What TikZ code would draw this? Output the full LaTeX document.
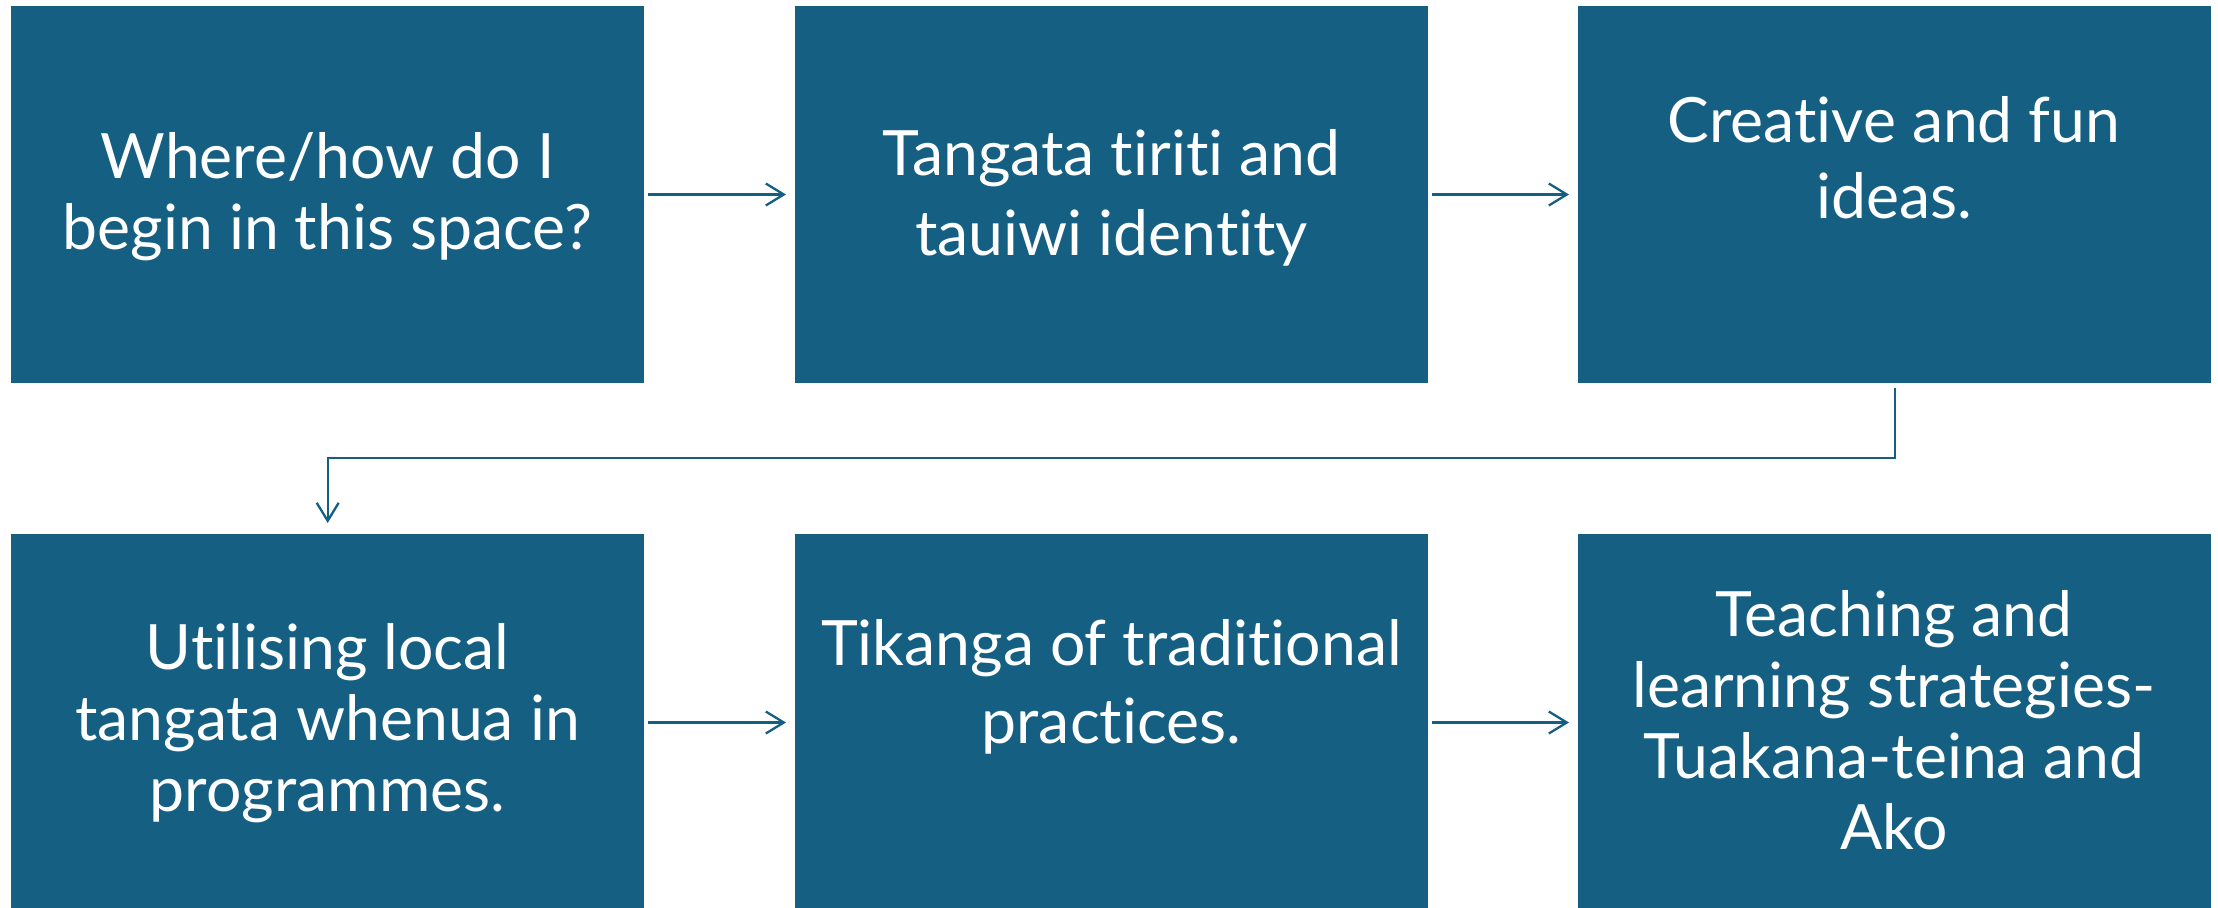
\documentclass[tikz,border=0pt]{standalone}
\usepackage{fontspec}
\setmainfont{Lato}[Ligatures={NoCommon,NoContextual}]
\usetikzlibrary{arrows.meta}
\definecolor{stepblue}{HTML}{156082}
\begin{document}
\begin{tikzpicture}[x=1pt,y=-1pt,
  stepbox/.style={fill=stepblue,draw=none,minimum width=633pt,minimum height=377pt,inner sep=0pt,anchor=north west},
  steptext/.style={text=white,align=center,font=\fontsize{62.5}{#1}\selectfont},
  steptext/.default=71,
  flow/.style={draw=stepblue,line width=2.3pt,-{Straight Barb[length=18pt,width=22pt]}}]
  \useasboundingbox (0,0) rectangle (2218,907);
  \fill[white] (0,0) rectangle (2218,907);
  \begin{scope}
  \clip (0,0) rectangle (2218,907);
  % top row
  \node[stepbox] (b1) at (11,6) {};
  \node[stepbox] (b2) at (795,6) {};
  \node[stepbox] (b3) at (1578,6) {};
  % bottom row (cut off by the page edge)
  \node[stepbox] (b4) at (11,534) {};
  \node[stepbox] (b5) at (795,534) {};
  \node[stepbox] (b6) at (1578,534) {};
  \end{scope}
  % labels
  \node[steptext] (t1) at (327.5,197) {Where/how do I\\begin in this space?};
  \node[steptext=80] (t2) at (1111.5,198) {Tangata tiriti and\\tauiwi identity};
  \node[steptext=76] (t3) at (1894,158) {Creative and fun\\ideas.};
  \node[steptext] (t4) at (327.5,723) {Utilising local\\tangata whenua in\\programmes.};
  \node[steptext=78] (t5) at (1111.5,687) {Tikanga of traditional\\practices.};
  \node[steptext] (t6) at (1894,720) {Teaching and\\learning strategies-\\Tuakana-teina and\\Ako};
  % connectors
  \coordinate (b1e) at (648,194.5);
  \coordinate (b2w) at (786,194.5);
  \draw[flow] (b1e) -- (b2w);
  \draw[flow] ([xshift=4pt]b2.east |- b1e) -- ([xshift=-9pt]b3.west |- b1e);
  \coordinate (r2) at (648,722.5);
  \draw[flow] (r2) -- ([xshift=-9pt]b5.west |- r2);
  \draw[flow] ([xshift=4pt]b5.east |- r2) -- ([xshift=-9pt]b6.west |- r2);
  \coordinate (turn) at (0,458);
  \draw[flow] ([yshift=-4.5pt]b3.south) -- (b3.south |- turn) -- (b4.north |- turn) -- ([yshift=11pt]b4.north);
\end{tikzpicture}
\end{document}
